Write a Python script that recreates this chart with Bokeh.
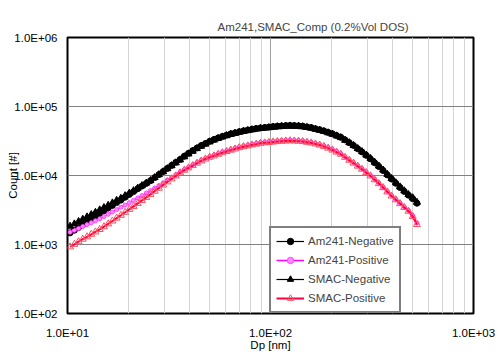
from bokeh.plotting import figure
from bokeh.models import Range1d, FixedTicker, Legend, LegendItem
from bokeh.embed import file_html
from bokeh.resources import INLINE

title_text = "Am241,SMAC_Comp (0.2%Vol DOS)"
x_label = "Dp [nm]"
y_label = "Count [#]"

x_ticks = [10, 100, 1000]
x_tick_labels = ["1.0E+01", "1.0E+02", "1.0E+03"]
x_minor = [20, 30, 40, 50, 60, 70, 80, 90, 200, 300, 400, 500, 600, 700, 800, 900]
y_ticks = [100, 1000, 10000, 100000, 1000000]
y_tick_labels = ["1.0E+02", "1.0E+03", "1.0E+04", "1.0E+05", "1.0E+06"]

dp = [10.3, 10.81, 11.34, 11.89, 12.48, 13.09, 13.73, 14.41, 15.12, 15.86,
      16.64, 17.46, 18.32, 19.22, 20.16, 21.15, 22.19, 23.28, 24.43, 25.63,
      26.89, 28.21, 29.60, 31.05, 32.58, 34.18, 35.86, 37.62, 39.47, 41.41,
      43.45, 45.58, 47.82, 50.17, 52.64, 55.22, 57.94, 60.79, 63.77, 66.91,
      70.20, 73.65, 77.27, 81.06, 85.05, 89.23, 93.61, 98.21, 103.04, 108.10,
      113.42, 118.99, 124.84, 130.97, 137.41, 144.16, 151.25, 158.68, 166.48, 174.66,
      183.24, 192.25, 201.70, 211.61, 222.01, 232.92, 244.37, 256.38, 268.98, 282.20,
      296.07, 310.62, 325.88, 341.90, 358.70, 376.33, 394.82, 414.23, 434.58, 455.94,
      478.35, 501.86, 526.52]

am241_negative = [1474, 1611, 1766, 1942, 2135, 2333, 2563, 2823, 3083, 3367,
                  3688, 4052, 4393, 4841, 5318, 5841, 6438, 7032, 7682, 8394,
                  9324, 10300, 11410, 12680, 14010, 15510, 17080, 19040, 20970, 22950,
                  25030, 27120, 29100, 31300, 33240, 35060, 36860, 38490, 40200, 41550,
                  43120, 44430, 45630, 46870, 47980, 48950, 49610, 50280, 51120, 51820,
                  52340, 52860, 53210, 52860, 52510, 51820, 50620, 49440, 47660, 46100,
                  44290, 42190, 40280, 37860, 35770, 32790, 29890, 27220, 24380, 21980,
                  19620, 17400, 15280, 13460, 11780, 10200, 8866, 7708, 6700, 5883,
                  5182, 4608, 3967]

am241_positive = [1508, 1606, 1712, 1823, 1943, 2070, 2206, 2350, 2537, 2740,
                  2958, 3204, 3460, 3737, 4036, 4357, 4720, 5113, 5559, 6042,
                  6591, 7164, 7842, 8606, 9417, 10300, 11310, 12260, 13240, 14290,
                  15490, 16660, 17810, 18860, 19760, 20840, 21910, 22880, 23890, 24870,
                  25970, 26850, 27580, 28420, 29190, 30090, 30490, 30900, 31420, 31830,
                  32160, 32470, 32690, 32470, 32260, 31830, 31110, 30380, 29390, 28330,
                  26940, 25450, 23890, 22270, 20770, 18730, 16990, 15430, 13960, 12590,
                  11240, 10070, 8840, 7786, 6813, 5902, 5146, 4535, 3996, 3519,
                  3099, 2600, 2050]

smac_negative = [1842, 1989, 2154, 2326, 2512, 2713, 2929, 3172, 3426, 3700,
                 4009, 4357, 4673, 5096, 5540, 6022, 6569, 7139, 7760, 8436,
                 9324, 10300, 11350, 12550, 13870, 15280, 16830, 18670, 20560, 22500,
                 24540, 26590, 28530, 30690, 32590, 34370, 36140, 37740, 39410, 40740,
                 42270, 43560, 44740, 45950, 47040, 47990, 48640, 49290, 50120, 50800,
                 51310, 51820, 52170, 51820, 51480, 50800, 49630, 48470, 46730, 45200,
                 43420, 41570, 39680, 37490, 35420, 32470, 29890, 27220, 24630, 22200,
                 19820, 17760, 15590, 13730, 12020, 10410, 9047, 7865, 6837, 6003,
                 5288, 4751, 4090]

smac_positive = [923, 1007, 1097, 1194, 1294, 1406, 1522, 1650, 1811, 1989,
                 2192, 2413, 2650, 2930, 3229, 3568, 3941, 4356, 4814, 5323,
                 5925, 6548, 7285, 8081, 8927, 9867, 10940, 11950, 12910, 13930,
                 15100, 16240, 17360, 18390, 19270, 20320, 21360, 22310, 23290, 24250,
                 25320, 26180, 26890, 27710, 28460, 29340, 29730, 30130, 30630, 31030,
                 31360, 31660, 31870, 31660, 31450, 31030, 30330, 29620, 28660, 27620,
                 26400, 24940, 23410, 21820, 20350, 18360, 16650, 15120, 13680, 12340,
                 11020, 9869, 8663, 7630, 6677, 5784, 5043, 4444, 3916, 3449,
                 3037, 2548, 1948]

FONT = "Liberation Sans"
FS = "11.5px"

p = figure(frame_width=406, frame_height=276, x_axis_type="log", y_axis_type="log",
           x_range=Range1d(10, 1000), y_range=Range1d(100, 1000000),
           output_backend="svg", toolbar_location=None,
           min_border_left=67, min_border_right=26, min_border_top=37,
           min_border_bottom=48, title=title_text)
p.background_fill_color = "white"
p.border_fill_color = "white"
p.outline_line_color = "black"
p.outline_line_width = 2

p.title.text_font = FONT
p.title.text_font_size = FS
p.title.text_font_style = "normal"
p.title.align = "left"
p.title.offset = 150
p.title.standoff = 10

p.xaxis.ticker = FixedTicker(ticks=x_ticks, minor_ticks=x_minor)
p.xaxis.major_label_overrides = {t: l for t, l in zip(x_ticks, x_tick_labels)}
p.yaxis.ticker = FixedTicker(ticks=y_ticks, minor_ticks=[])
p.yaxis.major_label_overrides = {t: l for t, l in zip(y_ticks, y_tick_labels)}

for ax in (p.xaxis, p.yaxis):
    ax.axis_line_color = None
    ax.major_tick_line_color = None
    ax.minor_tick_line_color = None
    ax.major_tick_out = 0
    ax.major_tick_in = 0
    ax.minor_tick_out = 0
    ax.minor_tick_in = 0
    ax.major_label_text_font = FONT
    ax.major_label_text_font_size = FS
    ax.major_label_text_color = "black"
    ax.axis_label_text_font = FONT
    ax.axis_label_text_font_size = FS
    ax.axis_label_text_font_style = "normal"
    ax.axis_label_text_color = "black"

p.xaxis.axis_label = x_label
p.yaxis.axis_label = y_label
p.xaxis.major_label_standoff = 13
p.xaxis.axis_label_standoff = -3
p.yaxis.major_label_standoff = 10
p.yaxis.axis_label_standoff = -8

p.xgrid.grid_line_color = "#a0a0a0"
p.xgrid.minor_grid_line_color = "#d4d4d4"
p.xgrid.minor_grid_line_width = 1
p.ygrid.grid_line_color = "#808080"

r1l = p.line(dp, am241_negative, line_color="black", line_width=1.2)
r1m = p.scatter(dp, am241_negative, marker="circle", size=6, fill_color="black", line_color="black")
r2l = p.line(dp, am241_positive, line_color="#ff00ff", line_width=1.5)
r2m = p.scatter(dp, am241_positive, marker="circle", size=4, fill_color="#ff88ff", line_color="#ff44ff")
r3l = p.line(dp, smac_negative, line_color="black", line_width=1.2)
r3m = p.scatter(dp, smac_negative, marker="triangle", size=7, fill_color="black", line_color="black")
r4l = p.line(dp, smac_positive, line_color="#ff0040", line_width=2)
r4m = p.scatter(dp, smac_positive, marker="triangle", size=7, fill_color=None, line_color="#ff5060", line_width=1)

legend = Legend(items=[
    LegendItem(label="Am241-Negative", renderers=[r1l, r1m]),
    LegendItem(label="Am241-Positive", renderers=[r2l, r2m]),
    LegendItem(label="SMAC-Negative", renderers=[r3l, r3m]),
    LegendItem(label="SMAC-Positive", renderers=[r4l, r4m]),
], location=(202, 0))
legend.border_line_color = "black"
legend.border_line_width = 2
legend.background_fill_color = "white"
legend.background_fill_alpha = 1
legend.label_text_font = FONT
legend.label_text_font_size = FS
legend.glyph_width = 28
legend.glyph_height = 16
legend.label_height = 16
legend.spacing = 3
legend.padding = 5
legend.margin = 0
legend.label_standoff = 4
p.add_layout(legend)

open("out.html", "w").write(file_html(p, INLINE))
